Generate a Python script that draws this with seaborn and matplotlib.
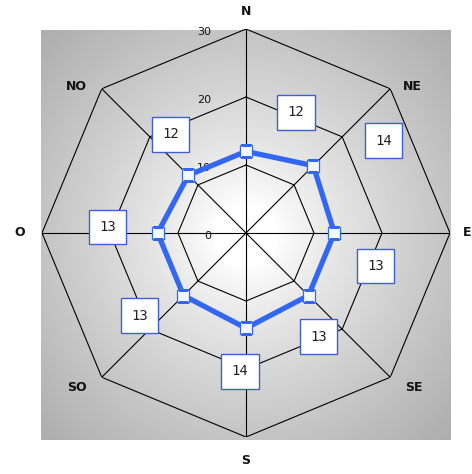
# Wind rose style radar chart (octagonal grid)

import numpy as np
import matplotlib
matplotlib.use("Agg")
import matplotlib.pyplot as plt
import seaborn as sns

# =========================================
# DATA
# =========================================
directions = ["N", "NE", "E", "SE", "S", "SO", "O", "NO"]
values = [12, 14, 13, 13, 14, 13, 13, 12]
rings = [10, 20, 30]
ring_ticks = [0, 10, 20, 30]

# label offsets (pixels) - styling only
value_offsets = [(50, 39), (70, 25), (41, -33), (10, -41),
                 (-6, -43), (-44, -20), (-50, 6), (-18, 41)]
dir_offsets = [(0, 17), (22, 2), (17, 0), (24, -10),
               (0, -24), (-25, -10), (-22, 0), (-25, 2)]

sns.set_theme(style="white")
plt.rcParams["font.family"] = ["DejaVu Sans"]

W, H = 472, 474
fig = plt.figure(figsize=(W / 100, H / 100), dpi=100)

# =========================================
# 1. GRADIENT BACKGROUND SQUARE
# =========================================
bg = fig.add_axes([41 / W, (H - 440) / H, 410 / W, 410 / H])
yy, xx = np.mgrid[-1:1:300j, -1:1:300j]
d = np.sqrt(xx ** 2 + yy ** 2)
shade = 1 - 0.32 * np.clip((d - 0.15) / 1.26, 0, 1) ** 0.8
bg.imshow(shade, cmap="gray", vmin=0, vmax=1, aspect="auto",
          extent=[0, 1, 0, 1], interpolation="bilinear")
bg.axis("off")

# =========================================
# 2. POLAR AXES
# =========================================
ax = fig.add_axes([42 / W, (H - 437) / H, 408 / W, 408 / H], projection="polar")
ax.set_theta_zero_location("N")
ax.set_theta_direction(-1)
ax.set_ylim(0, 30)
ax.axis("off")
ax.patch.set_alpha(0)

theta = np.deg2rad(np.arange(len(directions)) * 45.0)
theta_closed = np.append(theta, theta[0] + 2 * np.pi)

# octagon rings
for r in rings:
    ax.plot(theta_closed, [r] * len(theta_closed), color="black", lw=0.8, zorder=2)

# spokes
for t in theta:
    ax.plot([t, t], [0, rings[-1]], color="black", lw=0.8, zorder=2)

# radial tick labels
for r in ring_ticks:
    ax.annotate(str(r), xy=(0, r), xytext=(-35, -3), textcoords="offset pixels",
                ha="right", va="center", fontsize=8, color="#111111", zorder=3)

# direction labels
for t, name, off in zip(theta, directions, dir_offsets):
    ax.annotate(name, xy=(t, rings[-1]), xytext=off, textcoords="offset pixels",
                ha="center", va="center", fontsize=9, fontweight="bold",
                color="#111111", annotation_clip=False)

# =========================================
# 3. DATA LINE
# =========================================
vals_closed = values + [values[0]]
sns.lineplot(x=theta_closed, y=vals_closed, ax=ax, sort=False,
             color="#3366f2", lw=3.8, zorder=4)
ax.plot(theta, values, ls="none", marker="s", markersize=8,
        markerfacecolor="#f2f8ff", markeredgecolor="#3366f2",
        markeredgewidth=0.9, zorder=5)

# value boxes
for t, v, off in zip(theta, values, value_offsets):
    ax.annotate(str(v), xy=(t, v), xytext=off, textcoords="offset pixels",
                ha="center", va="center", fontsize=10, family="DejaVu Sans Mono",
                color="#222222", zorder=6,
                bbox=dict(boxstyle="square,pad=0.75", fc="white",
                          ec="#3f5fd0", lw=1.0))

plt.savefig("out.png", dpi=100)
plt.close()
